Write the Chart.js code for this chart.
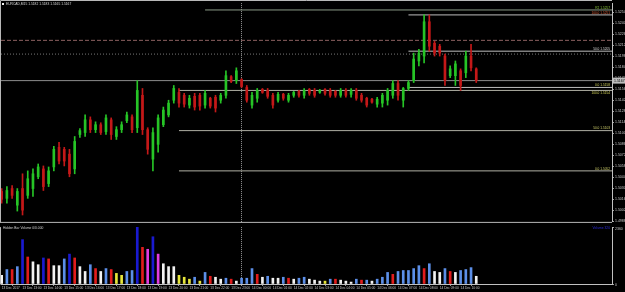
<!DOCTYPE html>
<html>
<head>
<meta charset="utf-8">
<script src="https://cdn.jsdelivr.net/npm/chart.js@4.4.1/dist/chart.umd.min.js"></script>
<style>
  html, body { margin: 0; padding: 0; background: #000; }
  #wrap { position: relative; width: 625px; height: 292px; background: #000; overflow: hidden; }
  canvas { position: absolute; left: 0; }
  #precio { top: 0; }
  #volumen { top: 224px; }
</style>
</head>
<body>
<div id="wrap">
  <canvas id="precio" width="625" height="225"></canvas>
  <canvas id="volumen" width="625" height="68"></canvas>
</div>
<script>
// EURCAD M15, one bar every 15 min from 13 Dec 12:00
const symbol = 'EURCAD,M15';

const opens = [
  1.50258, 1.50170, 1.50295, 1.50083, 1.50295, 1.50208, 1.50295, 1.50445, 1.50545, 1.50358,
  1.50570, 1.50820, 1.50795, 1.50733, 1.50545, 1.50983, 1.51008, 1.51170, 1.51045, 1.51108,
  1.51020, 1.51170, 1.50958, 1.51045, 1.51158, 1.51208, 1.51070, 1.51483, 1.51045, 1.50670,
  1.50858, 1.51108, 1.51233, 1.51420, 1.51520, 1.51483, 1.51358, 1.51470, 1.51483, 1.51358,
  1.51445, 1.51458, 1.51420, 1.51483, 1.51720, 1.51670, 1.51683, 1.51583, 1.51358, 1.51445,
  1.51558, 1.51545, 1.51483, 1.51420, 1.51495, 1.51420, 1.51483, 1.51533, 1.51483, 1.51558,
  1.51545, 1.51520, 1.51558, 1.51545, 1.51533, 1.51483, 1.51545, 1.51495, 1.51545, 1.51483,
  1.51445, 1.51433, 1.51370, 1.51383, 1.51420, 1.51483, 1.51633, 1.51420, 1.51570, 1.51670,
  1.51920, 1.51983, 1.52420, 1.52145, 1.52108, 1.51983, 1.51733, 1.51733, 1.51795, 1.51770,
  1.51983, 1.51820
];
const highs = [
  1.50295, 1.50320, 1.50333, 1.50295, 1.50483, 1.50520, 1.50545, 1.50608, 1.50583, 1.50570,
  1.50833, 1.50883, 1.50820, 1.50795, 1.50958, 1.51058, 1.51233, 1.51208, 1.51145, 1.51133,
  1.51233, 1.51195, 1.51083, 1.51145, 1.51270, 1.51233, 1.51670, 1.51570, 1.51070, 1.51070,
  1.51233, 1.51333, 1.51420, 1.51608, 1.51570, 1.51508, 1.51483, 1.51508, 1.51508, 1.51545,
  1.51458, 1.51483, 1.51508, 1.51795, 1.51733, 1.51833, 1.51695, 1.51608, 1.51520, 1.51570,
  1.51570, 1.51570, 1.51508, 1.51520, 1.51508, 1.51508, 1.51533, 1.51545, 1.51570, 1.51570,
  1.51570, 1.51558, 1.51570, 1.51570, 1.51545, 1.51570, 1.51570, 1.51570, 1.51570, 1.51508,
  1.51458, 1.51445, 1.51458, 1.51508, 1.51570, 1.51670, 1.51670, 1.51583, 1.51670, 1.52020,
  1.52070, 1.52507, 1.52507, 1.52170, 1.52132, 1.52008, 1.51858, 1.51920, 1.51820, 1.52045,
  1.52132, 1.51833
];
const lows = [
  1.50108, 1.50108, 1.50170, 1.50008, 1.49958, 1.50170, 1.50195, 1.50420, 1.50270, 1.50320,
  1.50520, 1.50608, 1.50583, 1.50445, 1.50483, 1.50945, 1.50958, 1.51008, 1.51008, 1.50983,
  1.50983, 1.50920, 1.50920, 1.51008, 1.51133, 1.51008, 1.51008, 1.50983, 1.50733, 1.50520,
  1.50758, 1.51083, 1.51208, 1.51383, 1.51333, 1.51333, 1.51320, 1.51295, 1.51295, 1.51320,
  1.51320, 1.51270, 1.51383, 1.51445, 1.51645, 1.51633, 1.51583, 1.51395, 1.51320, 1.51395,
  1.51508, 1.51445, 1.51320, 1.51395, 1.51420, 1.51395, 1.51458, 1.51458, 1.51445, 1.51483,
  1.51458, 1.51508, 1.51483, 1.51458, 1.51458, 1.51458, 1.51458, 1.51458, 1.51420, 1.51395,
  1.51333, 1.51383, 1.51333, 1.51333, 1.51358, 1.51445, 1.51420, 1.51333, 1.51545, 1.51645,
  1.51858, 1.51895, 1.52045, 1.51983, 1.51983, 1.51608, 1.51708, 1.51608, 1.51545, 1.51708,
  1.51795, 1.51645
];
const closes = [
  1.50158, 1.50270, 1.50208, 1.50258, 1.50020, 1.50420, 1.50483, 1.50570, 1.50320, 1.50520,
  1.50795, 1.50645, 1.50645, 1.50483, 1.50895, 1.51033, 1.51170, 1.51045, 1.51108, 1.51008,
  1.51195, 1.50983, 1.51045, 1.51108, 1.51233, 1.51045, 1.51545, 1.51045, 1.50795, 1.51008,
  1.51195, 1.51295, 1.51383, 1.51570, 1.51383, 1.51370, 1.51445, 1.51333, 1.51345, 1.51508,
  1.51345, 1.51320, 1.51483, 1.51733, 1.51658, 1.51795, 1.51595, 1.51420, 1.51483, 1.51545,
  1.51520, 1.51470, 1.51358, 1.51495, 1.51445, 1.51483, 1.51520, 1.51483, 1.51545, 1.51508,
  1.51483, 1.51545, 1.51508, 1.51483, 1.51483, 1.51545, 1.51483, 1.51545, 1.51445, 1.51420,
  1.51358, 1.51395, 1.51433, 1.51483, 1.51545, 1.51633, 1.51483, 1.51570, 1.51645, 1.51945,
  1.52020, 1.52420, 1.52108, 1.52020, 1.52020, 1.51670, 1.51820, 1.51883, 1.51608, 1.51983,
  1.51833, 1.51670
];

// tick volume per bar and its colour class (w/b/r/d/m/y)
const volumes = [
  360, 600, 600, 720, 1840, 1120, 920, 800, 1080, 1040,
  760, 760, 1040, 1240, 1080, 720, 520, 800, 640, 520,
  640, 600, 440, 360, 520, 560, 2360, 1520, 1440, 1960,
  1240, 840, 720, 720, 360, 280, 200, 280, 120, 480,
  320, 280, 200, 240, 200, 120, 240, 240, 640, 400,
  280, 320, 240, 240, 280, 240, 200, 240, 280, 200,
  160, 120, 120, 200, 200, 160, 120, 80, 200, 160,
  160, 120, 200, 280, 480, 400, 520, 560, 560, 640,
  760, 640, 840, 520, 480, 640, 520, 480, 560, 600,
  680, 320
];
const volumeClass = ('wbrbdrwwdr' + 'wwbdrwwbrw' + 'bryybbdrmd' + 'mwwwyyybyb' + 'rwwbrwbbbr' +
  'wbwwbrwbbw' + 'wwybrwwwbr' + 'bwbbbrbbbb' + 'brbwwbrwbb' + 'bw').split('');
const volumeMax = 2360;

// one label every 4 bars (hourly)
const hourLabels = [
  '13 Dec 2017', '13 Dec 13:00', '13 Dec 14:00', '13 Dec 15:00', '13 Dec 16:00', '13 Dec 17:00',
  '13 Dec 18:00', '13 Dec 19:00', '13 Dec 20:00', '13 Dec 21:00', '13 Dec 22:00', '13 Dec 23:00',
  '14 Dec 00:00', '14 Dec 01:00', '14 Dec 02:00', '14 Dec 03:00', '14 Dec 04:00', '14 Dec 05:00',
  '14 Dec 06:00', '14 Dec 07:00', '14 Dec 08:00', '14 Dec 09:00', '14 Dec 10:00'
];
const priceTicks = [
  1.5254, 1.5240, 1.5226, 1.5212, 1.5198, 1.5184, 1.5170, 1.5156, 1.5142, 1.5128,
  1.5114, 1.5100, 1.5086, 1.5072, 1.5058, 1.5044, 1.5030, 1.5016, 1.5002, 1.4988
];

// objects on the chart
const bidPrice = 1.51670;
const topLevel = 1.52570, topLevelFrom = 39;
const dashLevels = [1.52183, 1.52008];
const fibPct = ['100.0', '50.0', '0.0'];
const fibAPrices = [1.52507, 1.52045, 1.51583], fibAFrom = 78;
const fibBPrices = [1.51545, 1.51033, 1.50520], fibBFrom = 34;
const separatorBar = 45.9;

const X_MIN = -0.13, X_MAX = 117.03;
const Y_MIN = 1.4987, Y_MAX = 1.526575;

Chart.defaults.font.family = '"Liberation Sans", Arial, sans-serif';
const FONT = '"Liberation Sans", Arial, sans-serif';

const bars = closes.map((c, i) => i);
const candleColors = bars.map(i => closes[i] >= opens[i] ? '#26c426' : '#c41818');

function levelLine(price, fromBar, color, dash) {
  return {
    type: 'line',
    data: [{ x: fromBar, y: price }, { x: X_MAX, y: price }],
    borderColor: color, borderWidth: 1, borderDash: dash || [],
    pointRadius: 0, order: 3
  };
}

const levelTexts = [
  { price: topLevel, text: 'R2 ' + topLevel.toFixed(4), color: '#8fcf3a', above: true },
  { price: fibAPrices[0], text: fibPct[0] + ' ' + fibAPrices[0].toFixed(4), color: '#e0603a', above: true },
  { price: fibAPrices[1], text: fibPct[1] + ' ' + fibAPrices[1].toFixed(4), color: '#dcdcdc', above: true },
  { price: fibAPrices[2], text: fibPct[2] + ' ' + fibAPrices[2].toFixed(4), color: '#d6d65a', above: true },
  { price: fibBPrices[0], text: fibPct[0] + ' ' + fibBPrices[0].toFixed(4), color: '#d6d65a', above: false },
  { price: fibBPrices[1], text: fibPct[1] + ' ' + fibBPrices[1].toFixed(4), color: '#cfcf6a', above: true },
  { price: fibBPrices[2], text: fibPct[2] + ' ' + fibBPrices[2].toFixed(4), color: '#cfcf6a', above: true }
];

function dottedSeparator(chart) {
  const { ctx, chartArea: a, scales: { x } } = chart;
  const px = Math.round(x.getPixelForValue(separatorBar)) + 0.5;
  ctx.save();
  ctx.strokeStyle = '#969696';
  ctx.setLineDash([1, 1]);
  ctx.beginPath();
  ctx.moveTo(px, a.top);
  ctx.lineTo(px, a.bottom);
  ctx.stroke();
  ctx.restore();
}

const mainDecor = {
  id: 'mainDecor',
  beforeDatasetsDraw(chart) { dottedSeparator(chart); },
  afterDraw(chart) {
    const { ctx, chartArea: a, scales: { y } } = chart;
    ctx.save();
    // marco
    ctx.strokeStyle = '#b8b8b8';
    ctx.lineWidth = 1;
    ctx.beginPath();
    ctx.moveTo(0.5, a.bottom + 0.5); ctx.lineTo(0.5, 0.5); ctx.lineTo(a.right, 0.5);
    ctx.moveTo(0, a.bottom + 0.5); ctx.lineTo(a.right, a.bottom + 0.5);
    ctx.stroke();
    // textos de niveles
    ctx.font = '3.2px ' + FONT;
    ctx.textAlign = 'right';
    levelTexts.forEach(l => {
      const py = y.getPixelForValue(l.price);
      ctx.fillStyle = l.color;
      ctx.textBaseline = l.above ? 'bottom' : 'top';
      ctx.fillText(l.text, a.right - 2, l.above ? py - 0.5 : py + 1);
    });
    // bid box
    const yb = y.getPixelForValue(bidPrice);
    ctx.fillStyle = '#bdbdbd';
    ctx.fillRect(a.right + 1, yb - 3, 12, 6);
    ctx.fillStyle = '#000';
    ctx.font = '3.5px ' + FONT;
    ctx.textAlign = 'left';
    ctx.textBaseline = 'middle';
    ctx.fillText(bidPrice.toFixed(4), a.right + 2, yb);
    // titulo
    const n = closes.length - 1;
    ctx.fillStyle = '#f0f0f0';
    ctx.fillRect(2, 3, 2, 2);
    ctx.fillStyle = '#d8d8d8';
    ctx.font = '3.3px ' + FONT;
    ctx.fillText(symbol + ' ' + [opens[n], highs[n], lows[n], closes[n]].map(v => v.toFixed(4)).join(' '), 6, 4.5);
    ctx.restore();
  }
};

new Chart(document.getElementById('precio'), {
  type: 'bar',
  data: {
    datasets: [
      levelLine(topLevel, topLevelFrom, '#8a9a86'),
      levelLine(dashLevels[0], X_MIN, '#8c6060', [4, 2]),
      levelLine(dashLevels[1], X_MIN, '#787878', [1, 2]),
      levelLine(bidPrice, X_MIN, '#8c8c8c'),
      ...fibAPrices.map(p => levelLine(p, fibAFrom, '#bdbdbd')),
      ...fibBPrices.map(p => levelLine(p, fibBFrom, '#b0b0a4')),
      {
        type: 'bar', order: 1, grouped: false, barThickness: 1,
        data: bars.map(i => ({ x: i, y: [lows[i], highs[i]] })),
        backgroundColor: candleColors
      },
      {
        type: 'bar', order: 0, grouped: false, barThickness: 2, minBarLength: 1,
        data: bars.map(i => ({ x: i, y: [opens[i], closes[i]] })),
        backgroundColor: candleColors
      }
    ]
  },
  options: {
    responsive: false,
    devicePixelRatio: 1,
    animation: false,
    layout: { padding: { top: 1, bottom: 1, left: 1, right: 0 } },
    plugins: { legend: { display: false }, tooltip: { enabled: false } },
    scales: {
      x: { type: 'linear', min: X_MIN, max: X_MAX, offset: false, display: false },
      y: {
        position: 'right', min: Y_MIN, max: Y_MAX,
        afterFit: s => { s.width = 13; },
        afterBuildTicks: s => { s.ticks = priceTicks.map(v => ({ value: v })); },
        ticks: { color: '#c8c8c8', font: { size: 3.5 }, padding: 1, callback: v => v.toFixed(4) },
        grid: { drawOnChartArea: false, tickLength: 2, color: '#a0a0a0' },
        border: { color: '#c0c0c0' }
      }
    }
  },
  plugins: [mainDecor]
});

const volColors = { w: '#f2f2f2', b: '#5c8fe8', r: '#e21c1c', d: '#1a1ad0', m: '#e23ce2', y: '#e6e63a' };

const volDecor = {
  id: 'volDecor',
  beforeDatasetsDraw(chart) { dottedSeparator(chart); },
  afterDraw(chart) {
    const { ctx, chartArea: a } = chart;
    ctx.save();
    ctx.strokeStyle = '#b8b8b8';
    ctx.beginPath();
    ctx.moveTo(0.5, a.top); ctx.lineTo(0.5, a.bottom + 0.5);
    ctx.stroke();
    ctx.font = '3.3px ' + FONT;
    ctx.textBaseline = 'middle';
    ctx.textAlign = 'left';
    ctx.fillStyle = '#d0d0d0';
    ctx.fillText('Hidden Bar Volume 0/0.000', 3, 4.5);
    ctx.textAlign = 'right';
    ctx.fillStyle = '#2a2ad8';
    ctx.fillText('Volume ' + volumes[volumes.length - 1], a.right - 2, 4.5);
    ctx.restore();
  }
};

new Chart(document.getElementById('volumen'), {
  type: 'bar',
  data: {
    datasets: [{
      barThickness: 2,
      data: bars.map(i => ({ x: i, y: volumes[i] })),
      backgroundColor: volumeClass.map(c => volColors[c])
    }]
  },
  options: {
    responsive: false,
    devicePixelRatio: 1,
    animation: false,
    layout: { padding: { top: 1, bottom: 0, left: 1, right: 0 } },
    plugins: { legend: { display: false }, tooltip: { enabled: false } },
    scales: {
      x: {
        type: 'linear', min: X_MIN, max: X_MAX, offset: false,
        afterFit: s => { s.height = 8; },
        afterBuildTicks: s => { s.ticks = hourLabels.map((t, k) => ({ value: k * 4 })); },
        ticks: {
          color: '#c8c8c8', font: { size: 3.2 }, padding: 0.5, align: 'start',
          maxRotation: 0, autoSkip: false,
          callback: v => hourLabels[Math.round(v / 4)]
        },
        grid: { drawOnChartArea: false, tickLength: 2, color: '#909090' },
        border: { color: '#c0c0c0' }
      },
      y: {
        position: 'right', min: 0, max: volumeMax,
        afterFit: s => { s.width = 13; },
        afterBuildTicks: s => { s.ticks = [{ value: 0 }, { value: volumeMax }]; },
        ticks: { color: '#c8c8c8', font: { size: 3.5 }, padding: 1, labelOffset: 1.5, callback: v => String(v) },
        grid: { drawOnChartArea: false, tickLength: 2, color: '#a0a0a0' },
        border: { color: '#c0c0c0' }
      }
    }
  },
  plugins: [volDecor]
});
</script>
</body>
</html>
